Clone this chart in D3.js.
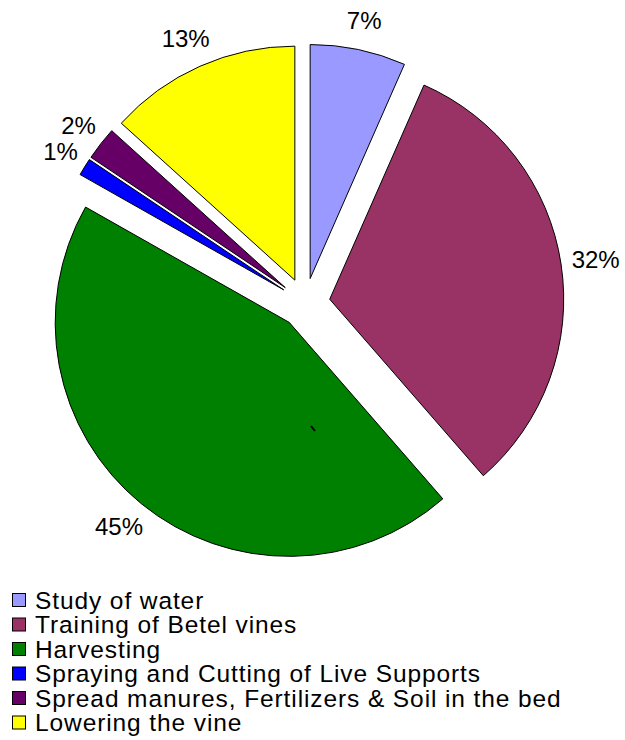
<!DOCTYPE html>
<html><head><meta charset="utf-8">
<script src="https://cdn.jsdelivr.net/npm/d3@7"></script>
<style>body{margin:0;background:#fff}svg{display:block}</style>
</head><body>
<script>
const categories = ["Study of water","Training of Betel vines","Harvesting","Spraying and Cutting of Live Supports","Spread manures, Fertilizers & Soil in the bed","Lowering the vine"];
const values = [6.6,32.0,44.6,1.2,2.3,13.3];
const labels = ["7%","32%","45%","1%","2%","13%"];
const colors = ["#9999FF","#993366","#008000","#0000FF","#660066","#FFFF00"];

const W=625,H=740, cx=305, cy=303, R=234, explode=25, labelR=270;
const FONT="Liberation Sans, Arial, sans-serif";
const svg=d3.select("body").append("svg").attr("width",W).attr("height",H);
const data=categories.map((c,i)=>({c,v:values[i],l:labels[i],col:colors[i]}));
const pie=d3.pie().value(d=>d.v).sort(null);
const arc=d3.arc().innerRadius(0).outerRadius(R);
const arcs=pie(data);
const g=svg.append("g").attr("transform",`translate(${cx},${cy})`);
arcs.forEach(a=>{
  const m=(a.startAngle+a.endAngle)/2;
  const sx=Math.sin(m), sy=-Math.cos(m);
  g.append("path").attr("d",arc(a)).attr("transform",`translate(${sx*explode},${sy*explode})`)
   .attr("fill",a.data.col).attr("stroke","#000").attr("stroke-width",1).attr("stroke-linejoin","round");
  const t=g.append("text").attr("text-anchor","middle").attr("dominant-baseline","central")
   .attr("font-family",FONT).attr("font-size",24).text(a.data.l);
  const w=t.node().getComputedTextLength(), h=38;
  t.attr("x",sx*labelR+sx*w/2).attr("y",sy*labelR+sy*h/2);
});
// small mark in harvesting slice
svg.append("line").attr("x1",311).attr("y1",426).attr("x2",315).attr("y2",431).attr("stroke","#000").attr("stroke-width",2);

const lg=svg.append("g");
data.forEach((d,i)=>{
  const y=600+i*24.5;
  lg.append("rect").attr("x",12.5).attr("y",y-6.5).attr("width",13).attr("height",13).attr("fill",d.col).attr("stroke","#000").attr("stroke-width",1);
  lg.append("text").attr("x",35).attr("y",y).attr("dominant-baseline","central")
    .attr("font-family",FONT).attr("font-size",24.5).attr("letter-spacing",0.9).text(d.c);
});
</script>
</body></html>
